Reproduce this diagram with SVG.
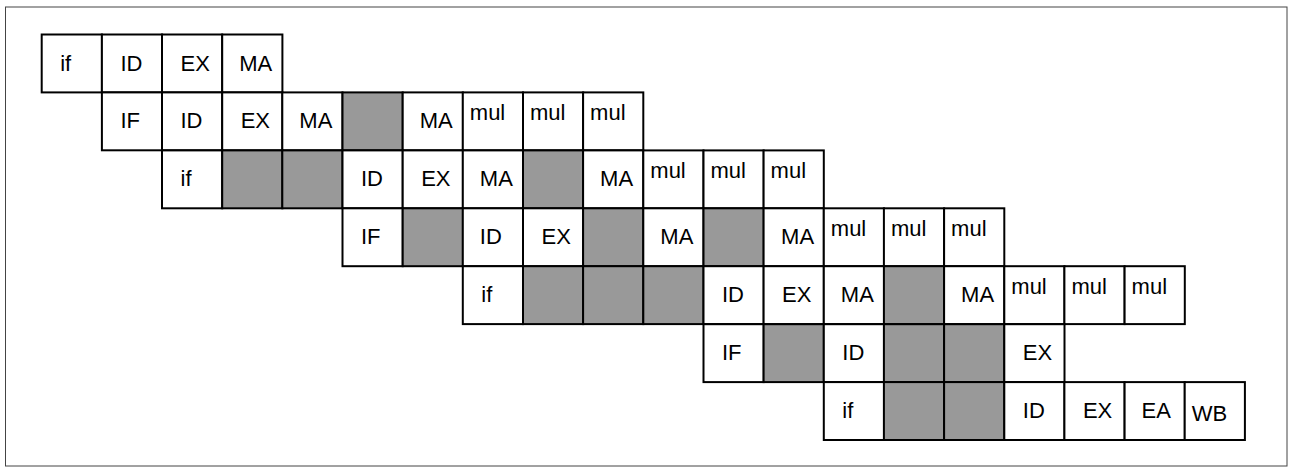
<svg xmlns="http://www.w3.org/2000/svg" width="1292" height="475" viewBox="0 0 1292 475">
  <style>
    .frame { fill: #fff; stroke: #444; stroke-width: 1; }
    .cell rect { fill: #fff; stroke: #000; stroke-width: 2; }
    .cell.stall rect { fill: #999; }
    .cell text { font-family: "Liberation Sans", Arial, sans-serif; font-size: 22px; fill: #000; }
  </style>
  <rect class="frame" x="5.5" y="7" width="1281.5" height="459"/>

  <!-- Each cell: 60.2 x 57.9, placed by translate(column, row) -->
  <g id="row1">
    <g id="r1c0" class="cell" transform="translate(41.7,34.5)"><rect width="60.2" height="57.9"/><text x="18.5" y="36">if</text></g>
    <g id="r1c1" class="cell" transform="translate(101.9,34.5)"><rect width="60.2" height="57.9"/><text x="18.5" y="36">ID</text></g>
    <g id="r1c2" class="cell" transform="translate(162.0,34.5)"><rect width="60.2" height="57.9"/><text x="18.5" y="36">EX</text></g>
    <g id="r1c3" class="cell" transform="translate(222.2,34.5)"><rect width="60.2" height="57.9"/><text x="17" y="36">MA</text></g>
  </g>

  <g id="row2">
    <g id="r2c1" class="cell" transform="translate(101.9,92.4)"><rect width="60.2" height="57.9"/><text x="18.5" y="36">IF</text></g>
    <g id="r2c2" class="cell" transform="translate(162.0,92.4)"><rect width="60.2" height="57.9"/><text x="18.5" y="36">ID</text></g>
    <g id="r2c3" class="cell" transform="translate(222.2,92.4)"><rect width="60.2" height="57.9"/><text x="18.5" y="36">EX</text></g>
    <g id="r2c4" class="cell" transform="translate(282.3,92.4)"><rect width="60.2" height="57.9"/><text x="17" y="36">MA</text></g>
    <g id="r2c5" class="cell stall" transform="translate(342.5,92.4)"><rect width="60.2" height="57.9"/></g>
    <g id="r2c6" class="cell" transform="translate(402.7,92.4)"><rect width="60.2" height="57.9"/><text x="17" y="36">MA</text></g>
    <g id="r2c7" class="cell" transform="translate(462.8,92.4)"><rect width="60.2" height="57.9"/><text x="7" y="27.5">mul</text></g>
    <g id="r2c8" class="cell" transform="translate(523.0,92.4)"><rect width="60.2" height="57.9"/><text x="7" y="27.5">mul</text></g>
    <g id="r2c9" class="cell" transform="translate(583.1,92.4)"><rect width="60.2" height="57.9"/><text x="7" y="27.5">mul</text></g>
  </g>

  <g id="row3">
    <g id="r3c2" class="cell" transform="translate(162.0,150.4)"><rect width="60.2" height="57.9"/><text x="18.5" y="36">if</text></g>
    <g id="r3c3" class="cell stall" transform="translate(222.2,150.4)"><rect width="60.2" height="57.9"/></g>
    <g id="r3c4" class="cell stall" transform="translate(282.3,150.4)"><rect width="60.2" height="57.9"/></g>
    <g id="r3c5" class="cell" transform="translate(342.5,150.4)"><rect width="60.2" height="57.9"/><text x="18.5" y="36">ID</text></g>
    <g id="r3c6" class="cell" transform="translate(402.7,150.4)"><rect width="60.2" height="57.9"/><text x="18.5" y="36">EX</text></g>
    <g id="r3c7" class="cell" transform="translate(462.8,150.4)"><rect width="60.2" height="57.9"/><text x="17" y="36">MA</text></g>
    <g id="r3c8" class="cell stall" transform="translate(523.0,150.4)"><rect width="60.2" height="57.9"/></g>
    <g id="r3c9" class="cell" transform="translate(583.1,150.4)"><rect width="60.2" height="57.9"/><text x="17" y="36">MA</text></g>
    <g id="r3c10" class="cell" transform="translate(643.3,150.4)"><rect width="60.2" height="57.9"/><text x="7" y="27.5">mul</text></g>
    <g id="r3c11" class="cell" transform="translate(703.5,150.4)"><rect width="60.2" height="57.9"/><text x="7" y="27.5">mul</text></g>
    <g id="r3c12" class="cell" transform="translate(763.6,150.4)"><rect width="60.2" height="57.9"/><text x="7" y="27.5">mul</text></g>
  </g>

  <g id="row4">
    <g id="r4c5" class="cell" transform="translate(342.5,208.3)"><rect width="60.2" height="57.9"/><text x="18.5" y="36">IF</text></g>
    <g id="r4c6" class="cell stall" transform="translate(402.7,208.3)"><rect width="60.2" height="57.9"/></g>
    <g id="r4c7" class="cell" transform="translate(462.8,208.3)"><rect width="60.2" height="57.9"/><text x="17" y="36">ID</text></g>
    <g id="r4c8" class="cell" transform="translate(523.0,208.3)"><rect width="60.2" height="57.9"/><text x="18.5" y="36">EX</text></g>
    <g id="r4c9" class="cell stall" transform="translate(583.1,208.3)"><rect width="60.2" height="57.9"/></g>
    <g id="r4c10" class="cell" transform="translate(643.3,208.3)"><rect width="60.2" height="57.9"/><text x="17" y="36">MA</text></g>
    <g id="r4c11" class="cell stall" transform="translate(703.5,208.3)"><rect width="60.2" height="57.9"/></g>
    <g id="r4c12" class="cell" transform="translate(763.6,208.3)"><rect width="60.2" height="57.9"/><text x="17.5" y="36">MA</text></g>
    <g id="r4c13" class="cell" transform="translate(823.8,208.3)"><rect width="60.2" height="57.9"/><text x="7" y="27.5">mul</text></g>
    <g id="r4c14" class="cell" transform="translate(883.9,208.3)"><rect width="60.2" height="57.9"/><text x="7" y="27.5">mul</text></g>
    <g id="r4c15" class="cell" transform="translate(944.1,208.3)"><rect width="60.2" height="57.9"/><text x="7" y="27.5">mul</text></g>
  </g>

  <g id="row5">
    <g id="r5c7" class="cell" transform="translate(462.8,266.2)"><rect width="60.2" height="57.9"/><text x="18.5" y="36">if</text></g>
    <g id="r5c8" class="cell stall" transform="translate(523.0,266.2)"><rect width="60.2" height="57.9"/></g>
    <g id="r5c9" class="cell stall" transform="translate(583.1,266.2)"><rect width="60.2" height="57.9"/></g>
    <g id="r5c10" class="cell stall" transform="translate(643.3,266.2)"><rect width="60.2" height="57.9"/></g>
    <g id="r5c11" class="cell" transform="translate(703.5,266.2)"><rect width="60.2" height="57.9"/><text x="18.5" y="36">ID</text></g>
    <g id="r5c12" class="cell" transform="translate(763.6,266.2)"><rect width="60.2" height="57.9"/><text x="18.5" y="36">EX</text></g>
    <g id="r5c13" class="cell" transform="translate(823.8,266.2)"><rect width="60.2" height="57.9"/><text x="17" y="36">MA</text></g>
    <g id="r5c14" class="cell stall" transform="translate(883.9,266.2)"><rect width="60.2" height="57.9"/></g>
    <g id="r5c15" class="cell" transform="translate(944.1,266.2)"><rect width="60.2" height="57.9"/><text x="17" y="36">MA</text></g>
    <g id="r5c16" class="cell" transform="translate(1004.3,266.2)"><rect width="60.2" height="57.9"/><text x="7" y="27.5">mul</text></g>
    <g id="r5c17" class="cell" transform="translate(1064.4,266.2)"><rect width="60.2" height="57.9"/><text x="7" y="27.5">mul</text></g>
    <g id="r5c18" class="cell" transform="translate(1124.6,266.2)"><rect width="60.2" height="57.9"/><text x="7" y="27.5">mul</text></g>
  </g>

  <g id="row6">
    <g id="r6c11" class="cell" transform="translate(703.5,324.2)"><rect width="60.2" height="57.9"/><text x="18.5" y="36">IF</text></g>
    <g id="r6c12" class="cell stall" transform="translate(763.6,324.2)"><rect width="60.2" height="57.9"/></g>
    <g id="r6c13" class="cell" transform="translate(823.8,324.2)"><rect width="60.2" height="57.9"/><text x="18.5" y="36">ID</text></g>
    <g id="r6c14" class="cell stall" transform="translate(883.9,324.2)"><rect width="60.2" height="57.9"/></g>
    <g id="r6c15" class="cell stall" transform="translate(944.1,324.2)"><rect width="60.2" height="57.9"/></g>
    <g id="r6c16" class="cell" transform="translate(1004.3,324.2)"><rect width="60.2" height="57.9"/><text x="18.5" y="36">EX</text></g>
  </g>

  <g id="row7">
    <g id="r7c13" class="cell" transform="translate(823.8,382.1)"><rect width="60.2" height="57.9"/><text x="18.5" y="36">if</text></g>
    <g id="r7c14" class="cell stall" transform="translate(883.9,382.1)"><rect width="60.2" height="57.9"/></g>
    <g id="r7c15" class="cell stall" transform="translate(944.1,382.1)"><rect width="60.2" height="57.9"/></g>
    <g id="r7c16" class="cell" transform="translate(1004.3,382.1)"><rect width="60.2" height="57.9"/><text x="18.5" y="36">ID</text></g>
    <g id="r7c17" class="cell" transform="translate(1064.4,382.1)"><rect width="60.2" height="57.9"/><text x="18.5" y="36">EX</text></g>
    <g id="r7c18" class="cell" transform="translate(1124.6,382.1)"><rect width="60.2" height="57.9"/><text x="17" y="36">EA</text></g>
    <g id="r7c19" class="cell" transform="translate(1184.7,382.1)"><rect width="60.2" height="57.9"/><text x="7" y="38.5">WB</text></g>
  </g>
</svg>
